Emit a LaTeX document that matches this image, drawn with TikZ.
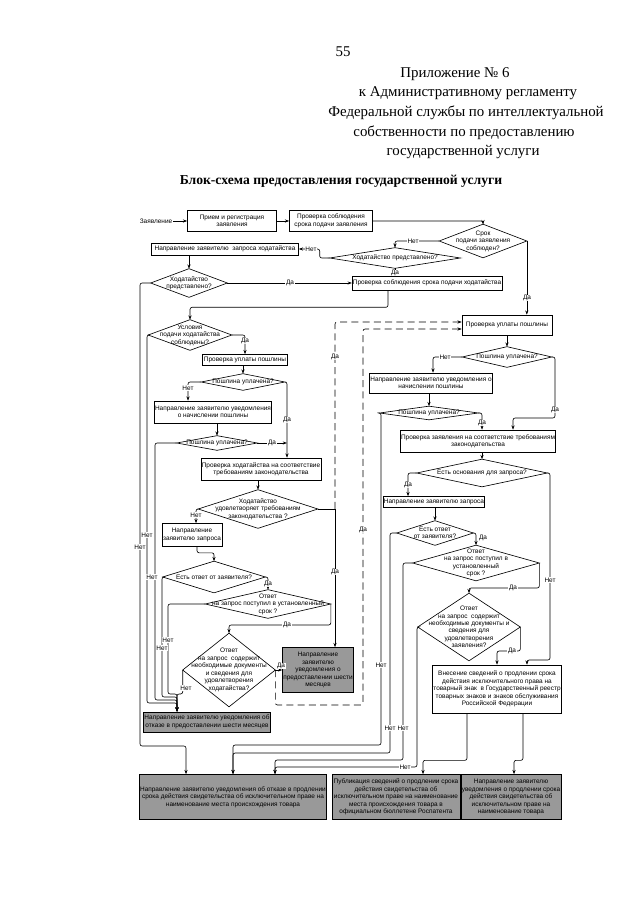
\documentclass[tikz,border=0pt]{standalone}
\usepackage{fontspec}
\setmainfont{Liberation Serif}
\setsansfont{Liberation Sans}
\usetikzlibrary{shapes.geometric, arrows.meta, calc, positioning}

\newcommand{\fl}{\sffamily\fontsize{4.6}{5.3}\selectfont}
\newcommand{\dianode}[5]{%
  \node[diatext, minimum width=#3*0.25mm, minimum height=#4*0.25mm] (#1) at (#2) {#5};
  \draw (#1.north) -- (#1.east) -- (#1.south) -- (#1.west) -- cycle;}

\tikzset{
  box/.style={draw, align=center, font=\fl, inner sep=0.5pt},
  gbox/.style={box, fill=black!40},
  sz/.style 2 args={minimum width=#1*0.25mm, minimum height=#2*0.25mm},
  diatext/.style={align=center, font=\fl, inner sep=0pt},
  lbl/.style={font=\fl, inner sep=0.5pt},
  lab/.style={font=\fl, inner sep=0.4pt, fill=white},
  flow/.style={-{Stealth[length=3pt,width=2.2pt]}, rounded corners=1.5pt},
  dflow/.style={flow, dash pattern=on 5pt off 3pt},
  head/.style={font=\fontsize{10.6}{13}\selectfont, inner sep=0pt},
  ttl/.style={font=\bfseries\fontsize{9.7}{12}\selectfont, inner sep=0pt}
}

\begin{document}
\begin{tikzpicture}[x=0.25mm, y=-0.25mm, line width=0.45pt]
  \useasboundingbox (0,0) rectangle (640,905);

  % Header
  \node[head] (pnum) at (343,52) {55};
  \node[head] (h1) at (455,74) {Приложение № 6};
  \node[head] (h2) at (468,93) {к Административному регламенту};
  \node[head] (h3) at (466,113) {Федеральной службы по интеллектуальной};
  \node[head] (h4) at (464,133) {собственности по предоставлению};
  \node[head] (h5) at (463,152) {государственной услуги};
  \node[ttl] (ttl) at (341,181) {Блок-схема предоставления государственной услуги};

  % Top row
  \node[lbl] (zayav) at (156,221) {Заявление};
  \node[box, sz={89}{21}] (priem) at (232,221) {Прием и регистрация\\заявления};
  \node[box, sz={83}{21}] (srokz) at (331,221) {Проверка соблюдения\\срока подачи заявления};
  \dianode{dsrok}{483,241}{87}{33}{Срок\\подачи заявления\\соблюден?}
  \dianode{dhodr}{395,258}{130}{20}{Ходатайство представлено?}
  \node[box, sz={147}{12}] (zaphod) at (225,249) {Направление заявителю\ \ запроса ходатайства};
  \node[box, sz={149}{14}] (srokh) at (427,283) {Проверка соблюдения срока подачи ходатайства};
  \dianode{dhodl}{189,283}{76}{28}{Ходатайство\\представлено?}

  % Left column
  \dianode{dusl}{190,335}{83}{30}{Условия\\подачи ходатайства\\соблюдены?}
  \node[box, sz={85}{11}] (uplL) at (245,360) {Проверка уплаты пошлины};
  \dianode{dpoL}{243,382}{83}{16}{Пошлина уплачена?}
  \node[box, sz={103}{22}] (uvedL) at (213,412) {Направление заявителю уведомления\\о начислении пошлины};
  \dianode{dpoL2}{217,443}{80}{14}{Пошлина уплачена?}
  \node[box, sz={118}{22}] (trebL) at (261,469) {Проверка ходатайства на соответствие\\требованиям законодательства};
  \dianode{dudov}{258,509}{119}{38}{Ходатайство\\удовлетворяет требованиям\\законодательства ?}
  \node[box, sz={60}{23}] (zapL) at (192,535) {Направление\\заявителю запроса};
  \dianode{dotvL}{214,577}{102}{31}{Есть ответ от заявителя?}
  \dianode{dsrL}{268,604}{125}{28}{Ответ\\на запрос поступил в установленный\\срок ?}
  \dianode{dsodL}{229,670}{92}{73}{Ответ\\на запрос\ \ содержит\\необходимые документы\\и сведения для\\удовлетворения\\ходатайства?}
  \node[gbox, sz={60}{45}] (shestD) at (318,670) {Направление\\заявителю\\уведомления о\\предоставлении шести\\месяцев};
  \node[gbox, sz={117}{20}] (shestN) at (207,722) {Направление заявителю уведомления об\\отказе в предоставлении шести месяцев};

  % Right column
  \node[box, sz={90}{20}] (uplR) at (507,325) {Проверка уплаты пошлины};
  \dianode{dpoR}{507,357}{89}{20}{Пошлина уплачена?}
  \node[box, sz={122}{20}] (uvedR) at (431,383) {Направление заявителю уведомления о\\начислении пошлины};
  \dianode{dpoR2}{429,413}{98}{13}{Пошлина уплачена?}
  \node[box, sz={147}{22}] (trebR) at (478,441) {Проверка заявления на соответствие требованиям\\законодательства};
  \dianode{dosn}{482,473}{130}{27}{Есть основания для запроса?}
  \node[box, sz={98}{11}] (zapR) at (434,502) {Направление заявителю запроса};
  \dianode{dotvR}{435,533}{76}{24}{Есть ответ\\от заявителя?}
  \dianode{dsrR}{476,563}{126}{35}{Ответ\\на запрос поступил в\\установленный\\срок ?}
  \dianode{dsodR}{469,627}{102}{67}{Ответ\\на запрос\ \ содержит\\необходимые документы и\\сведения для\\удовлетворения\\заявления?}
  \node[box, sz={120}{48}] (vnes) at (497,689) {Внесение сведений о продлении срока\\действия исключительного права на\\товарный знак\ \ в Государственный реестр\\товарных знаков и знаков обслуживания\\Российской Федерации};

  % Bottom row
  \node[gbox, sz={183}{45}] (otkaz) at (233,797) {Направление заявителю уведомления об отказе в продлении\\срока действия свидетельства об исключительном праве на\\наименование места происхождения товара};
  \node[gbox, sz={128}{45}] (publ) at (396,797) {Публикация сведений о продлении срока\\действия свидетельства об\\исключительном праве на наименование\\места происхождения товара в\\официальном бюллетене Роспатента};
  \node[gbox, sz={88}{45}] (uvedpr) at (511,797) {Направление заявителю\\уведомления о продлении срока\\действия свидетельства об\\исключительном праве на\\наименование товара};

  % Connectors, top
  \draw[flow] (zayav) -- (priem);
  \draw[flow] (priem) -- (srokz);
  \draw[flow] (srokz.east) -| (dsrok.north);
  \draw[flow] (dsrok.west) -| (dhodr.north);
  \draw[flow] (dsrok.east) -- (dsrok.east |- uplR.north);
  \draw[flow] (dhodr.west) -- ++(-10,0) |- (zaphod.east);
  \draw[flow] (dhodr.south) -- (dhodr.south |- srokh.north);
  \draw[flow] (dhodl.north |- zaphod.south) -- (dhodl.north);
  \draw[flow] (dhodl.east) -- (srokh.west);
  \draw[flow] (dhodl.west) -| (140,746) -| ($(otkaz.north)+(-47,0)$);
  \draw[flow] ($(srokh.south)+(-39,0)$) -- ++(0,17) -| (dusl.north);

  % Connectors, left column
  \draw[flow] (dusl.east) -| (uplL.north);
  \draw[flow] (dusl.west) -| (147,703) -| ($(shestN.north)+(-30,0)$);
  \draw[flow] (dpoL.north |- uplL.south) -- (dpoL.north);
  \draw[flow] (dpoL.west) -| ($(uvedL.north)+(-25,0)$);
  \draw[flow] (dpoL.east) -| ($(trebL.north)+(26,0)$);
  \coordinate (jL) at (287,443);
  \draw[flow] (dpoL2.north |- uvedL.south) -- (dpoL2.north);
  \draw[flow] (dpoL2.east) -- (jL);
  \draw[flow] (dpoL2.west) -| (155,700) -| ($(shestN.north)+(-30,0)$);
  \draw[flow] (dudov.north |- trebL.south) -- (dudov.north);
  \draw[flow] (dudov.west) -| ($(zapL.north)+(4,0)$);
  \coordinate (jD) at (335,509);
  \draw (dudov.east) -- (jD);
  \draw[flow] (jD) -- (jD |- shestD.north);
  \draw[dflow] (jD) |- ($(uplR.west)+(0,-3)$);
  \draw[flow] ($(zapL.south)+(5,0)$) -- ++(0,6) -| (dotvL.north);
  \draw[flow] (dotvL.west) -| (162,697) -| ($(shestN.north)+(-30,0)$);
  \draw[flow] (dotvL.east) -| (dsrL.north);
  \draw[flow] (dsrL.west) -| (168,694) -| ($(shestN.north)+(-30,0)$);
  \draw[flow] (dsrL.east) -- ++(0,21) -| (dsodL.north);
  \draw[flow] (dsodL.east) -- (shestD.west);
  \draw[dflow] (dsodL.east) |- (363,705) |- ($(uplR.west)+(0,4)$);
  \draw[flow] (dsodL.west) -- ++(0,24) -| ($(shestN.north)+(-30,0)$);

  % Connectors, right column
  \draw[flow] (uplR) -- (dpoR);
  \draw[flow] (dpoR.west) -| ($(uvedR.north)+(2,0)$);
  \draw[flow] (dpoR.east) -| (555,418) -| ($(trebR.north)+(35,0)$);
  \draw[flow] (dpoR2.north |- uvedR.south) -- (dpoR2.north);
  \draw[flow] (dpoR2.east) -| ($(trebR.north)+(4,0)$);
  \draw[flow] (dpoR2.west) -| (381,745) -| (otkaz.north);
  \draw[flow] (dosn.north |- trebR.south) -- (dosn.north);
  \draw[flow] (dosn.west) -| ($(zapR.north)+(-26,0)$);
  \draw[flow] (dosn.east) -| (550,660) -| ($(vnes.north)+(30,0)$);
  \draw[flow] (dotvR.north |- zapR.south) -- (dotvR.north);
  \draw[flow] (dotvR.east) -| (dsrR.north);
  \draw[flow] (dotvR.west) -| (390,753) -| (otkaz.north);
  \draw[flow] (dsrR.east) -- ++(0,25) -| (dsodR.north);
  \draw[flow] (dsrR.west) -| (403,760) -| ($(otkaz.north)+(42,0)$);
  \draw[flow] (dsodR.east) -- ++(0,24) -| (vnes.north);
  \draw[flow] (dsodR.west) -| (417,767) -| ($(otkaz.north)+(42,0)$);
  \draw[flow] ($(vnes.south)+(-30,0)$) -- ++(0,47) -| ($(publ.north)+(27,0)$);
  \draw[flow] ($(vnes.south)+(26,0)$) -- ++(0,47) -| ($(uvedpr.north)+(3,0)$);

  % Labels on connectors
  \node[lab] (n1) at (413,241) {Нет};
  \node[lab] (y1) at (527,298) {Да};
  \node[lab] (n2) at (311,249) {Нет};
  \node[lab] (y2) at (395,273) {Да};
  \node[lab] (y3) at (290,283) {Да};
  \node[lab] (y4) at (245,341) {Да};
  \node[lab] (n3) at (188,388) {Нет};
  \node[lab] (y5) at (287,420) {Да};
  \node[lab] (y5b) at (272,443) {Да};
  \node[lab] (n4) at (196,515) {Нет};
  \node[lab] (y6) at (335,572) {Да};
  \node[lab] (y7) at (335,357) {Да};
  \node[lab] (n9) at (147,535) {Нет};
  \node[lab] (n10) at (140,547) {Нет};
  \node[lab] (n5) at (152,577) {Нет};
  \node[lab] (y8) at (268,584) {Да};
  \node[lab] (n7) at (168,640) {Нет};
  \node[lab] (n8) at (162,648) {Нет};
  \node[lab] (y9) at (287,625) {Да};
  \node[lab] (y10) at (281,666) {Да};
  \node[lab] (y11) at (363,530) {Да};
  \node[lab] (n6) at (186,688) {Нет};
  \node[lab] (n11) at (445,357) {Нет};
  \node[lab] (y12) at (555,410) {Да};
  \node[lab] (y13) at (482,423) {Да};
  \node[lab] (n12) at (381,665) {Нет};
  \node[lab] (y14) at (408,485) {Да};
  \node[lab] (n13) at (550,580) {Нет};
  \node[lbl] (y15) at (483,538) {Да};
  \node[lab] (n14) at (390,728) {Нет};
  \node[lab] (y16) at (513,588) {Да};
  \node[lab] (n15) at (403,728) {Нет};
  \node[lab] (y17) at (512,651) {Да};
  \node[lab] (n16) at (405,767) {Нет};
\end{tikzpicture}
\end{document}
